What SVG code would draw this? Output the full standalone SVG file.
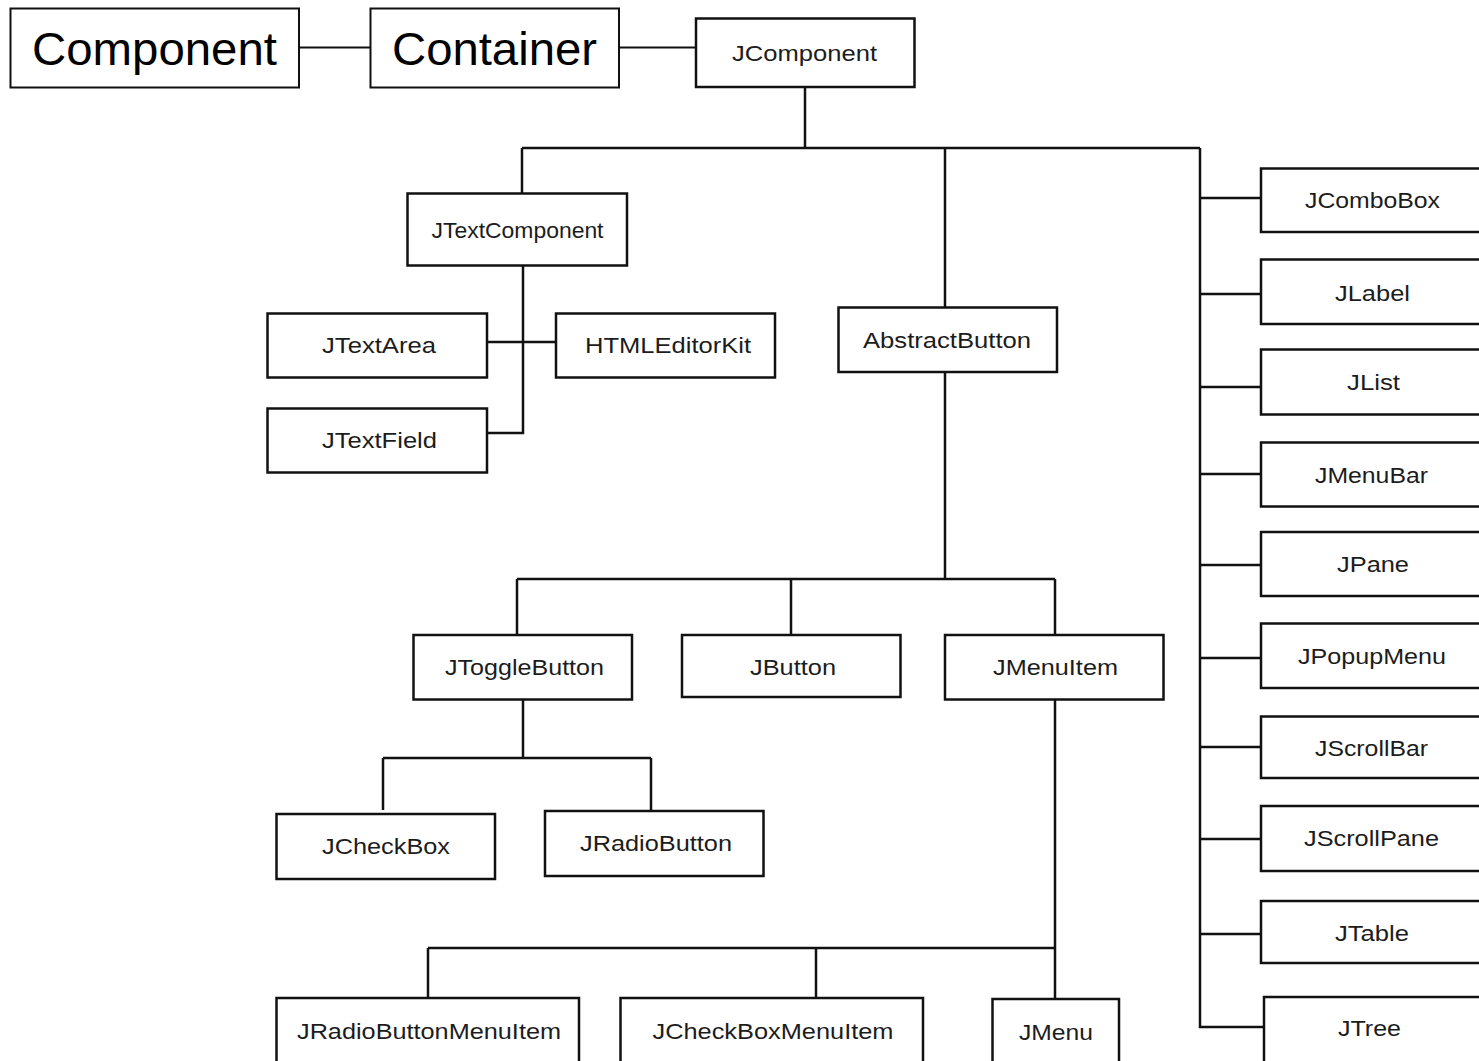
<svg xmlns="http://www.w3.org/2000/svg" width="1479" height="1061" viewBox="0 0 1479 1061">
<style>
.box{fill:#fff;stroke:#111;stroke-width:2.5}
.box2{fill:#fff;stroke:#111;stroke-width:2}
.big{font-family:"Liberation Sans",Arial,sans-serif;font-size:47px;fill:#000;text-anchor:middle}
.sm{font-family:"Liberation Sans",Arial,sans-serif;font-size:22px;fill:#1c1c1c;text-anchor:middle}
.ln{fill:none;stroke:#111;stroke-width:2.5}
.ln2{fill:none;stroke:#111;stroke-width:1.8}
</style>
<rect width="1479" height="1061" fill="#fff"/>
<g id="connectors">
<path class="ln2" d="M299 47.5H370M619 47.5H696"/>
<g class="ln">
<path d="M805 87V148M522 148H1200M522 148V193M945 148V307M1200 148V1027H1264"/>
<path d="M1200 198H1261M1200 294H1261M1200 387H1261M1200 474H1261M1200 565H1261M1200 658H1261M1200 747H1261M1200 839H1261M1200 934H1261"/>
<path d="M523 266V433H487M487 342H556"/>
<path d="M945 372V579M517 579H1055M517 579V635M791 579V635M1055 579V999"/>
<path d="M523 700V758M383 758H651M383 758V810M651 758V811"/>
<path d="M428 948H1055M428 948V998M816 948V1002"/>
</g>
</g>
<g id="n-component"><rect class="box2" x="10.5" y="8.5" width="288.5" height="79"/><text class="big" x="154.5" y="65" textLength="245" lengthAdjust="spacingAndGlyphs">Component</text></g>
<g id="n-container"><rect class="box2" x="370.5" y="8.5" width="248.5" height="79"/><text class="big" x="494.5" y="65" textLength="205" lengthAdjust="spacingAndGlyphs">Container</text></g>
<g id="n-jcomponent"><rect class="box" x="696" y="18.5" width="218.5" height="68.5"/><text class="sm" x="804.5" y="61" textLength="145" lengthAdjust="spacingAndGlyphs">JComponent</text></g>
<g id="n-jtextcomponent"><rect class="box" x="407.5" y="193.5" width="219.5" height="72"/><text class="sm" x="517.5" y="238" textLength="172" lengthAdjust="spacingAndGlyphs">JTextComponent</text></g>
<g id="n-jtextarea"><rect class="box" x="267.5" y="313.5" width="219.5" height="64"/><text class="sm" x="379" y="353" textLength="114" lengthAdjust="spacingAndGlyphs">JTextArea</text></g>
<g id="n-htmleditorkit"><rect class="box" x="556" y="313.5" width="219" height="64"/><text class="sm" x="668" y="353" textLength="166" lengthAdjust="spacingAndGlyphs">HTMLEditorKit</text></g>
<g id="n-jtextfield"><rect class="box" x="267.5" y="408.5" width="219.5" height="64"/><text class="sm" x="379.5" y="448" textLength="115" lengthAdjust="spacingAndGlyphs">JTextField</text></g>
<g id="n-abstractbutton"><rect class="box" x="838.5" y="307.5" width="218.5" height="64.5"/><text class="sm" x="947" y="348" textLength="168" lengthAdjust="spacingAndGlyphs">AbstractButton</text></g>
<g id="n-jtogglebutton"><rect class="box" x="413.5" y="635" width="218.5" height="64.5"/><text class="sm" x="524.5" y="675" textLength="159" lengthAdjust="spacingAndGlyphs">JToggleButton</text></g>
<g id="n-jbutton"><rect class="box" x="682" y="635" width="218.5" height="62"/><text class="sm" x="793" y="675" textLength="86" lengthAdjust="spacingAndGlyphs">JButton</text></g>
<g id="n-jmenuitem"><rect class="box" x="945" y="635" width="218.5" height="64.5"/><text class="sm" x="1055.5" y="675" textLength="125" lengthAdjust="spacingAndGlyphs">JMenuItem</text></g>
<g id="n-jcheckbox"><rect class="box" x="276.5" y="814" width="218.5" height="65"/><text class="sm" x="386" y="854" textLength="128" lengthAdjust="spacingAndGlyphs">JCheckBox</text></g>
<g id="n-jradiobutton"><rect class="box" x="545" y="811" width="218.5" height="65"/><text class="sm" x="656" y="851" textLength="152" lengthAdjust="spacingAndGlyphs">JRadioButton</text></g>
<g id="n-jradiobuttonmenuitem"><rect class="box" x="276.5" y="998" width="302.5" height="80"/><text class="sm" x="429" y="1039" textLength="264" lengthAdjust="spacingAndGlyphs">JRadioButtonMenuItem</text></g>
<g id="n-jcheckboxmenuitem"><rect class="box" x="620.5" y="998" width="302.5" height="80"/><text class="sm" x="773" y="1039" textLength="241" lengthAdjust="spacingAndGlyphs">JCheckBoxMenuItem</text></g>
<g id="n-jmenu"><rect class="box" x="992.5" y="999" width="126.5" height="80"/><text class="sm" x="1056" y="1040" textLength="74" lengthAdjust="spacingAndGlyphs">JMenu</text></g>
<g id="n-jcombobox"><rect class="box" x="1261" y="168.5" width="240" height="63.5"/><text class="sm" x="1372.5" y="208" textLength="135" lengthAdjust="spacingAndGlyphs">JComboBox</text></g>
<g id="n-jlabel"><rect class="box" x="1261" y="259.5" width="240" height="64.5"/><text class="sm" x="1372.5" y="301" textLength="75" lengthAdjust="spacingAndGlyphs">JLabel</text></g>
<g id="n-jlist"><rect class="box" x="1261" y="349.5" width="240" height="65"/><text class="sm" x="1373.5" y="390" textLength="53" lengthAdjust="spacingAndGlyphs">JList</text></g>
<g id="n-jmenubar"><rect class="box" x="1261" y="442.5" width="240" height="64"/><text class="sm" x="1371.5" y="483" textLength="113" lengthAdjust="spacingAndGlyphs">JMenuBar</text></g>
<g id="n-jpane"><rect class="box" x="1261" y="532" width="240" height="64"/><text class="sm" x="1373" y="572" textLength="72" lengthAdjust="spacingAndGlyphs">JPane</text></g>
<g id="n-jpopupmenu"><rect class="box" x="1261" y="623.5" width="240" height="64.5"/><text class="sm" x="1372" y="664" textLength="148" lengthAdjust="spacingAndGlyphs">JPopupMenu</text></g>
<g id="n-jscrollbar"><rect class="box" x="1261" y="716.5" width="240" height="61.5"/><text class="sm" x="1371.5" y="756" textLength="113" lengthAdjust="spacingAndGlyphs">JScrollBar</text></g>
<g id="n-jscrollpane"><rect class="box" x="1261" y="806" width="240" height="65"/><text class="sm" x="1371.5" y="846" textLength="135" lengthAdjust="spacingAndGlyphs">JScrollPane</text></g>
<g id="n-jtable"><rect class="box" x="1261" y="901" width="240" height="62"/><text class="sm" x="1372" y="941" textLength="74" lengthAdjust="spacingAndGlyphs">JTable</text></g>
<g id="n-jtree"><rect class="box" x="1264" y="997" width="240" height="80"/><text class="sm" x="1369.5" y="1036" textLength="63" lengthAdjust="spacingAndGlyphs">JTree</text></g>
</svg>
